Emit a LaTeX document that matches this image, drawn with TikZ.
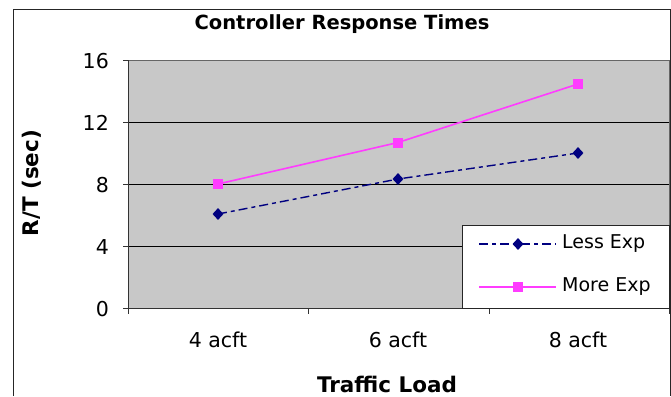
\documentclass[tikz,border=0pt]{standalone}
\usepackage{fontspec}
\setmainfont{DejaVu Sans}
\usetikzlibrary{shapes.geometric}
\definecolor{plotgray}{RGB}{200,200,200}
\definecolor{navy}{RGB}{0,0,128}
\definecolor{mag}{RGB}{255,60,255}
\tikzset{
  ticklabel/.style={font=\fontsize{20.5bp}{24bp}\selectfont, inner sep=0pt},
  legendlabel/.style={font=\fontsize{19bp}{22bp}\selectfont, inner sep=0pt},
  charttitle/.style={font=\bfseries\fontsize{19.5bp}{23bp}\selectfont, inner sep=0pt},
  axistitle/.style={font=\bfseries\fontsize{21.5bp}{25bp}\selectfont, inner sep=0pt},
  gridline/.style={line width=0.9bp, black},
  axisline/.style={line width=0.9bp, black!60},
  lessline/.style={navy, line width=1.4bp, dash pattern=on 9bp off 4bp on 4bp off 4bp},
  moreline/.style={mag, line width=1.6bp},
  lessmark/.style={diamond, fill=navy, inner sep=0pt, minimum width=11bp, minimum height=12bp},
  moremark/.style={rectangle, fill=mag, inner sep=0pt, minimum size=10bp},
}
\begin{document}
\begin{tikzpicture}[x=1bp,y=-1bp]
\useasboundingbox (0,0) rectangle (671,396);
% outer frame
\draw[line width=1bp, black!85] (13,396) -- (13,9) -- (670,9) -- (670,396);
% plot area
\fill[plotgray] (128,60) rectangle (669,308);
\foreach \y in {122,184,246} \draw[gridline] (128,\y) -- (669,\y);
\draw[axisline] (128,60) -- (669,60) -- (669,308);
\draw[axisline, black!80] (128,60) -- (128,308) -- (669,308);
\foreach \y in {60,122,184,246,308} \draw[axisline, black!80] (123,\y) -- (128,\y);
\foreach \x in {128,308,489,669} \draw[axisline, black!80] (\x,308) -- (\x,314);
% tick labels
\node[ticklabel, anchor=east] (y16) at (109,61) {16};
\node[ticklabel, anchor=east] (y12) at (109,123) {12};
\node[ticklabel, anchor=east] (y8) at (109,185) {8};
\node[ticklabel, anchor=east] (y4) at (109,247) {4};
\node[ticklabel, anchor=east] (y0) at (109,309) {0};
\node[ticklabel] (x4) at (218,339.5) {4 acft};
\node[ticklabel] (x6) at (398,339.5) {6 acft};
\node[ticklabel] (x8) at (578,339.5) {8 acft};
% titles
\node[charttitle] (title) at (342,24) {Controller Response Times};
\node[axistitle, rotate=90] (ytitle) at (32,183) {R/T (sec)};
\node[axistitle] (xtitle) at (387,384) {Traffic Load};
% data
\coordinate (l1) at (218,214);
\coordinate (l2) at (398,179);
\coordinate (l3) at (578,153);
\coordinate (m1) at (218,184);
\coordinate (m2) at (398,142.5);
\coordinate (m3) at (578,84);
\draw[lessline] (l1) -- (l2) -- (l3);
\draw[moreline] (m1) -- (m2) -- (m3);
\foreach \p in {l1,l2,l3} \node[lessmark] at (\p) {};
\foreach \p in {m1,m2,m3} \node[moremark] at (\p) {};
% legend
\draw[line width=1bp, black!85, fill=white] (462,225) rectangle (669,308);
\coordinate (la) at (479,244);
\coordinate (lb) at (556,244);
\coordinate (ma) at (479,287);
\coordinate (mb) at (556,287);
\draw[lessline] (la) -- (lb);
\draw[moreline] (ma) -- (mb);
\node[lessmark] (lm) at (518,244) {};
\node[moremark] (mm) at (518,287) {};
\node[legendlabel, anchor=west] (ltext) at (562,244) {Less Exp};
\node[legendlabel, anchor=west] (mtext) at (562,287) {More Exp};
\end{tikzpicture}
\end{document}
